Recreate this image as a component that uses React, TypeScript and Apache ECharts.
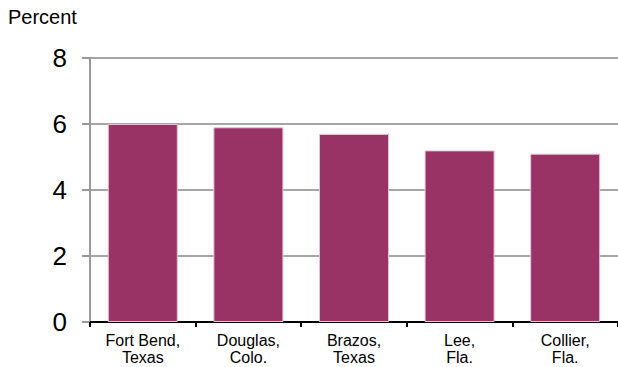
import React, { useEffect, useRef } from "react";
import * as echarts from "echarts";

const categories = ["Fort Bend,\nTexas", "Douglas,\nColo.", "Brazos,\nTexas", "Lee,\nFla.", "Collier,\nFla."];
const values = [6.0, 5.9, 5.7, 5.2, 5.1];
const yTicks = { min: 0, max: 8, interval: 2 };

const FONT = "Liberation Sans, Arial, sans-serif";

export default function App() {
  const ref = useRef<HTMLDivElement>(null);
  useEffect(() => {
    if (!ref.current) return;
    const chart = echarts.init(ref.current, null, { renderer: "svg" });
    chart.setOption({
      animation: false,
      textStyle: { fontFamily: FONT },
      graphic: [
        {
          type: "text",
          left: 8,
          top: 7,
          style: { text: "Percent", fontSize: 20, fill: "#000", fontFamily: FONT },
        },
      ],
      grid: { left: 90, top: 58, width: 530, height: 264 },
      xAxis: {
        type: "category",
        data: categories,
        axisLine: { lineStyle: { color: "#000", width: 2 } },
        axisTick: { show: true, length: 5, lineStyle: { color: "#000", width: 2 } },
        axisLabel: { color: "#000", fontSize: 16, lineHeight: 17, margin: 10, interval: 0 },
      },
      yAxis: {
        type: "value",
        min: yTicks.min,
        max: yTicks.max,
        interval: yTicks.interval,
        axisLine: { show: true, lineStyle: { color: "#999", width: 2 } },
        axisTick: { show: true, length: 8, lineStyle: { color: "#999", width: 2 } },
        axisLabel: { color: "#000", fontSize: 26, margin: 23 },
        splitLine: { lineStyle: { color: "#a6a6a6", width: 2 } },
      },
      series: [
        {
          type: "bar",
          data: values,
          barWidth: 70,
          itemStyle: { color: "#993366", borderColor: "#e6c3d4", borderWidth: 1 },
        },
      ],
    });
    return () => chart.dispose();
  }, []);
  return <div ref={ref} style={{ width: 618, height: 367, position: "absolute", left: 0, top: 0 }} />;
}
